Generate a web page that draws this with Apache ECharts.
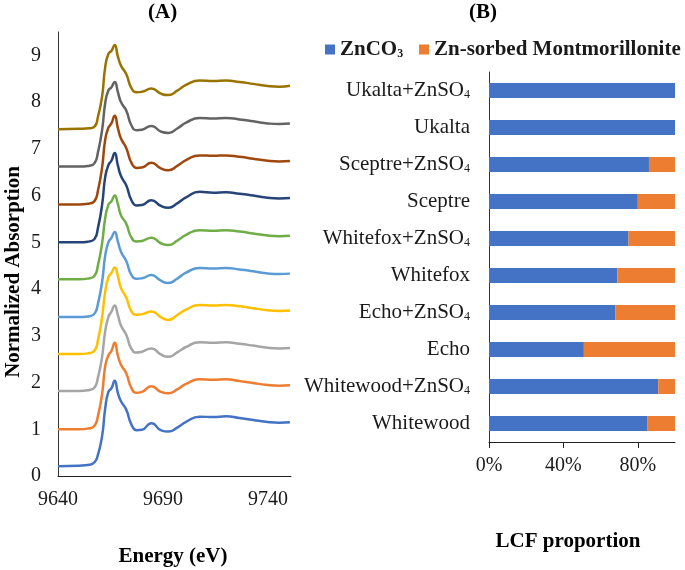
<!DOCTYPE html>
<html>
<head>
<meta charset="utf-8">
<script src="https://cdn.jsdelivr.net/npm/echarts@6/dist/echarts.min.js"></script>
<style>
  html, body { margin: 0; padding: 0; background: #fff; }
  #chart { width: 685px; height: 570px; }
</style>
</head>
<body>
<div id="chart"></div>
<script>
// (A) XANES spectra, energy grid shared by all curves
const energy = [9640, 9650, 9655, 9657.5, 9659, 9661, 9662.5, 9664, 9665.5, 9667, 9668.5, 9670, 9672.5, 9675, 9677.5,
  9680, 9684.5, 9689, 9692.5, 9697, 9701, 9707.5, 9714, 9720, 9726.5, 9733, 9739, 9745.5, 9750.5];

// stacked (offset) normalized absorption, bottom to top
const specBlue = [0.21, 0.22, 0.24, 0.30, 0.45, 0.85, 1.45, 1.80, 1.88, 2.04, 1.78, 1.60, 1.42, 1.10, 0.98,
  0.99, 1.13, 0.98, 0.95, 1.04, 1.16, 1.27, 1.26, 1.28, 1.24, 1.20, 1.16, 1.14, 1.15];
const specOrange = [1.00, 1.00, 1.02, 1.08, 1.28, 1.75, 2.35, 2.58, 2.68, 2.85, 2.58, 2.38, 2.20, 1.88, 1.78,
  1.80, 1.92, 1.80, 1.77, 1.86, 1.97, 2.07, 2.06, 2.07, 2.03, 1.99, 1.95, 1.93, 1.94];
const specGray = [1.82, 1.82, 1.84, 1.90, 2.10, 2.55, 3.10, 3.40, 3.52, 3.65, 3.45, 3.22, 3.02, 2.72, 2.64,
  2.66, 2.73, 2.60, 2.55, 2.65, 2.76, 2.86, 2.85, 2.86, 2.83, 2.79, 2.75, 2.73, 2.74];
const specYellow = [2.61, 2.61, 2.63, 2.69, 2.90, 3.40, 3.95, 4.25, 4.35, 4.46, 4.28, 4.02, 3.82, 3.52, 3.45,
  3.46, 3.52, 3.40, 3.34, 3.45, 3.56, 3.66, 3.65, 3.66, 3.63, 3.59, 3.55, 3.53, 3.54];
const specSky = [3.40, 3.40, 3.42, 3.48, 3.68, 4.15, 4.72, 5.00, 5.10, 5.22, 5.02, 4.80, 4.60, 4.30, 4.22,
  4.23, 4.30, 4.18, 4.13, 4.23, 4.35, 4.45, 4.44, 4.45, 4.42, 4.38, 4.34, 4.32, 4.33];
const specGreen = [4.21, 4.21, 4.23, 4.29, 4.50, 4.98, 5.52, 5.80, 5.88, 6.00, 5.82, 5.58, 5.40, 5.10, 5.02,
  5.03, 5.10, 4.98, 4.94, 5.04, 5.16, 5.26, 5.25, 5.26, 5.23, 5.19, 5.15, 5.13, 5.14];
const specNavy = [5.00, 5.00, 5.02, 5.08, 5.30, 5.80, 6.40, 6.65, 6.75, 6.91, 6.65, 6.42, 6.22, 5.90, 5.79,
  5.80, 5.90, 5.78, 5.74, 5.84, 5.96, 6.08, 6.06, 6.07, 6.04, 6.00, 5.96, 5.94, 5.95];
const specBrown = [5.81, 5.81, 5.83, 5.89, 6.10, 6.60, 7.20, 7.45, 7.55, 7.71, 7.45, 7.22, 7.02, 6.70, 6.59,
  6.60, 6.70, 6.58, 6.54, 6.64, 6.76, 6.86, 6.85, 6.86, 6.83, 6.79, 6.75, 6.73, 6.74];
const specDarkGray = [6.62, 6.62, 6.64, 6.70, 6.92, 7.40, 7.98, 8.25, 8.32, 8.43, 8.22, 8.00, 7.82, 7.50, 7.40,
  7.41, 7.49, 7.37, 7.34, 7.44, 7.56, 7.66, 7.65, 7.66, 7.63, 7.59, 7.55, 7.53, 7.54];
const specGold = [7.42, 7.43, 7.44, 7.48, 7.68, 8.12, 8.75, 9.03, 9.10, 9.22, 8.98, 8.78, 8.60, 8.30, 8.21,
  8.22, 8.29, 8.18, 8.15, 8.25, 8.37, 8.46, 8.45, 8.46, 8.43, 8.39, 8.35, 8.33, 8.35];

// (B) LCF proportions (%)
const samples = ['Whitewood', 'Whitewood+ZnSO4', 'Echo', 'Echo+ZnSO4', 'Whitefox', 'Whitefox+ZnSO4',
  'Sceptre', 'Sceptre+ZnSO4', 'Ukalta', 'Ukalta+ZnSO4'];
const znco3 = [85, 91, 51, 68, 69, 75, 80, 86, 100, 100];
const znMont = [15, 9, 49, 32, 31, 25, 20, 14, 0, 0];

const serif = 'Liberation Serif';
const txt = '#1a1a1a';

const spectra = [
  [specBlue, '#4472C4'], [specOrange, '#ED7D31'], [specGray, '#A5A5A5'], [specYellow, '#FFC000'],
  [specSky, '#5B9BD5'], [specGreen, '#70AD47'], [specNavy, '#264478'], [specBrown, '#9E480E'],
  [specDarkGray, '#636363'], [specGold, '#997300']
];

let myChart = echarts.init(document.getElementById('chart'));

const lineSeries = spectra.map(function (s, k) {
  return {
    name: 'spec' + k,
    type: 'line',
    xAxisIndex: 0,
    yAxisIndex: 0,
    showSymbol: false,
    smooth: 0.55,
    lineStyle: { color: s[1], width: 2.5 },
    data: energy.map(function (e, i) { return [e, s[0][i]]; }),
    silent: true
  };
});

function subLabel(v) {
  if (v.indexOf('ZnSO4') >= 0) return '{a|' + v.slice(0, -1) + '}{s|4}';
  return '{a|' + v + '}';
}

const legendRich = {
  b: { fontFamily: serif, fontWeight: 'bold', fontSize: 21, color: txt },
  s: { fontFamily: serif, fontWeight: 'bold', fontSize: 12, color: txt, verticalAlign: 'bottom', padding: [6, 0, 0, 0] }
};
function legendFmt(name) {
  return name === 'ZnCO3' ? '{b|ZnCO}{s|3}' : '{b|' + name + '}';
}

let option = {
  animation: false,
  backgroundColor: '#fff',
  textStyle: { fontFamily: serif },
  graphic: [
    { type: 'text', left: 148, top: 2, style: { text: '(A)', font: 'bold 21px "Liberation Serif"', fill: '#000' } },
    { type: 'text', left: 469, top: 2, style: { text: '(B)', font: 'bold 21px "Liberation Serif"', fill: '#000' } },
    { type: 'text', x: 3, y: 272, rotation: Math.PI / 2,
      style: { text: 'Normalized Absorption', font: 'bold 21px "Liberation Serif"', fill: '#000',
        align: 'center', verticalAlign: 'top' } },
    { type: 'text', x: 173, y: 557,
      style: { text: 'Energy (eV)', font: 'bold 21px "Liberation Serif"', fill: '#000',
        align: 'center', verticalAlign: 'middle' } },
    { type: 'text', x: 568, y: 542,
      style: { text: 'LCF proportion', font: 'bold 21px "Liberation Serif"', fill: '#000',
        align: 'center', verticalAlign: 'middle' } }
  ],
  legend: [
    {
      data: ['ZnCO3'], left: 320, top: 34, icon: 'rect', itemWidth: 10, itemHeight: 10,
      formatter: legendFmt, textStyle: { rich: legendRich }
    },
    {
      data: ['Zn-sorbed Montmorillonite'], left: 414, top: 34, icon: 'rect', itemWidth: 10, itemHeight: 10,
      formatter: legendFmt, textStyle: { rich: legendRich }
    }
  ],
  grid: [
    { left: 58, top: 32, width: 233, height: 444 },
    { left: 489, top: 72, width: 186, height: 370 }
  ],
  xAxis: [
    {
      gridIndex: 0, type: 'value', min: 9640, max: 9751, interval: 50,
      axisLine: { lineStyle: { color: '#222', width: 1 } },
      axisTick: { show: false },
      splitLine: { show: false },
      axisLabel: { showMaxLabel: false, margin: 14, fontSize: 20, fontFamily: serif, color: txt,
        formatter: function (v) { return String(v); } }
    },
    {
      gridIndex: 1, type: 'value', min: 0, max: 100, interval: 40,
      axisLine: { show: true, lineStyle: { color: '#222', width: 1 } },
      axisTick: { show: true, length: 6, lineStyle: { color: '#222' } },
      splitLine: { show: false },
      axisLabel: { showMaxLabel: false, margin: 14, fontSize: 20, fontFamily: serif, color: txt,
        formatter: '{value}%' }
    }
  ],
  yAxis: [
    {
      gridIndex: 0, type: 'value', min: 0, max: 9.5, interval: 1,
      axisLine: { show: true, lineStyle: { color: '#333', width: 1 } },
      axisTick: { show: false },
      splitLine: { show: false },
      axisLabel: { showMaxLabel: false, margin: 17, fontSize: 20, fontFamily: serif, color: txt }
    },
    {
      gridIndex: 1, type: 'category', data: samples,
      axisLine: { show: true, lineStyle: { color: '#333', width: 1 } },
      axisTick: { show: false },
      axisLabel: {
        margin: 19,
        formatter: subLabel,
        rich: {
          a: { fontFamily: serif, fontSize: 21, color: txt },
          s: { fontFamily: serif, fontSize: 12, color: txt, verticalAlign: 'bottom', padding: [6, 0, 0, 0] }
        }
      }
    }
  ],
  series: lineSeries.concat([
    {
      name: 'ZnCO3', type: 'bar', stack: 'lcf', xAxisIndex: 1, yAxisIndex: 1,
      barWidth: 15, itemStyle: { color: '#4472C4' }, data: znco3
    },
    {
      name: 'Zn-sorbed Montmorillonite', type: 'bar', stack: 'lcf', xAxisIndex: 1, yAxisIndex: 1,
      barWidth: 15, itemStyle: { color: '#ED7D31' }, data: znMont
    }
  ])
};

myChart.setOption(option);
</script>
</body>
</html>
